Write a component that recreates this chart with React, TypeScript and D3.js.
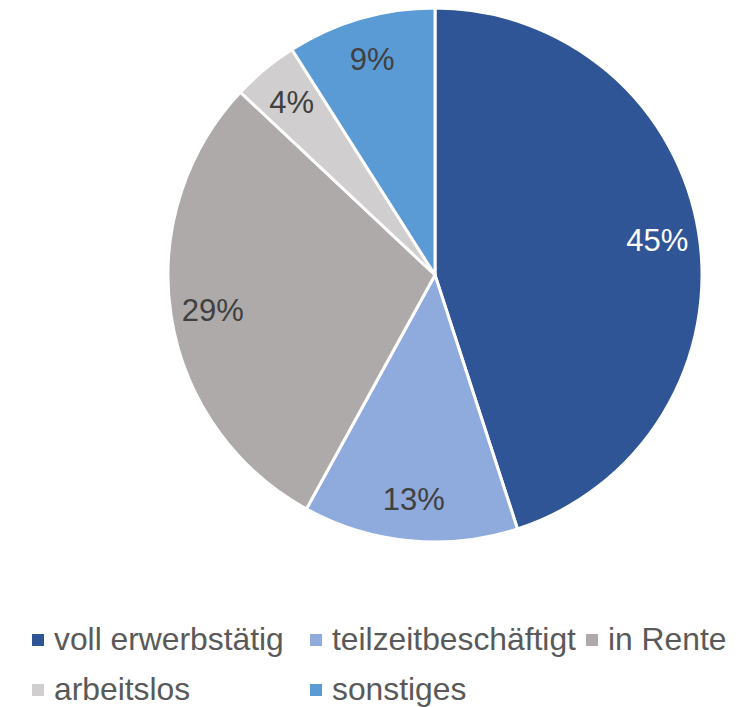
import React, { useEffect, useRef } from "react";
import * as d3 from "d3";

const categories = [
  "voll erwerbstätig",
  "teilzeitbeschäftigt",
  "in Rente",
  "arbeitslos",
  "sonstiges",
];
const values = [45, 13, 29, 4, 9];
const colors = ["#2F5597", "#8FAADC", "#AEAAAA", "#D0CECE", "#5B9BD5"];
const labelColors = ["#ffffff", "#404040", "#404040", "#404040", "#404040"];

// legend layout: [row, col] per category
const legendRows = [0, 0, 0, 1, 1];
const legendCols = [0, 1, 2, 0, 1];

const App = () => {
  const ref = useRef<SVGSVGElement>(null);

  useEffect(() => {
    const width = 740;
    const height = 707;
    const cx = 435;
    const cy = 275;
    const radius = 267;

    const svg = d3.select(ref.current);
    svg.selectAll("*").remove();
    svg.attr("width", width).attr("height", height);

    const pie = d3
      .pie<number>()
      .sort(null)
      .value((d) => d);
    const arcs = pie(values);

    const arc = d3.arc<d3.PieArcDatum<number>>().innerRadius(0).outerRadius(radius);
    const labelArc = d3
      .arc<d3.PieArcDatum<number>>()
      .innerRadius(225)
      .outerRadius(225);

    const g = svg.append("g").attr("transform", `translate(${cx},${cy})`);

    g.selectAll("path")
      .data(arcs)
      .enter()
      .append("path")
      .attr("d", arc)
      .attr("fill", (d, i) => colors[i])
      .attr("stroke", "#ffffff")
      .attr("stroke-width", 3)
      .attr("stroke-linejoin", "round");

    g.selectAll("text")
      .data(arcs)
      .enter()
      .append("text")
      .attr("transform", (d) => `translate(${labelArc.centroid(d)})`)
      .attr("text-anchor", "middle")
      .attr("dy", "0.36em")
      .attr("font-family", "'Liberation Sans', Arial, sans-serif")
      .attr("font-size", 31)
      .attr("fill", (d, i) => labelColors[i])
      .text((d) => `${d.data}%`);

    // legend
    const colX = d3.scaleOrdinal<number, number>().domain([0, 1, 2]).range([32, 310, 586]);
    const rowY = d3.scaleOrdinal<number, number>().domain([0, 1]).range([650, 700]);

    const legend = svg.append("g");
    const items = legend
      .selectAll("g")
      .data(categories)
      .enter()
      .append("g")
      .attr("transform", (d, i) => `translate(${colX(legendCols[i])},${rowY(legendRows[i])})`);

    items
      .append("rect")
      .attr("x", 0)
      .attr("y", -16)
      .attr("width", 12)
      .attr("height", 12)
      .attr("fill", (d, i) => colors[i]);

    items
      .append("text")
      .attr("x", 22)
      .attr("y", 0)
      .attr("font-family", "'Liberation Sans', Arial, sans-serif")
      .attr("font-size", 31.8)
      .attr("fill", "#595959")
      .text((d) => d);
  }, []);

  return (
    <div style={{ position: "absolute", left: 0, top: 0 }}>
      <svg ref={ref} style={{ display: "block" }}></svg>
    </div>
  );
};

export default App;
